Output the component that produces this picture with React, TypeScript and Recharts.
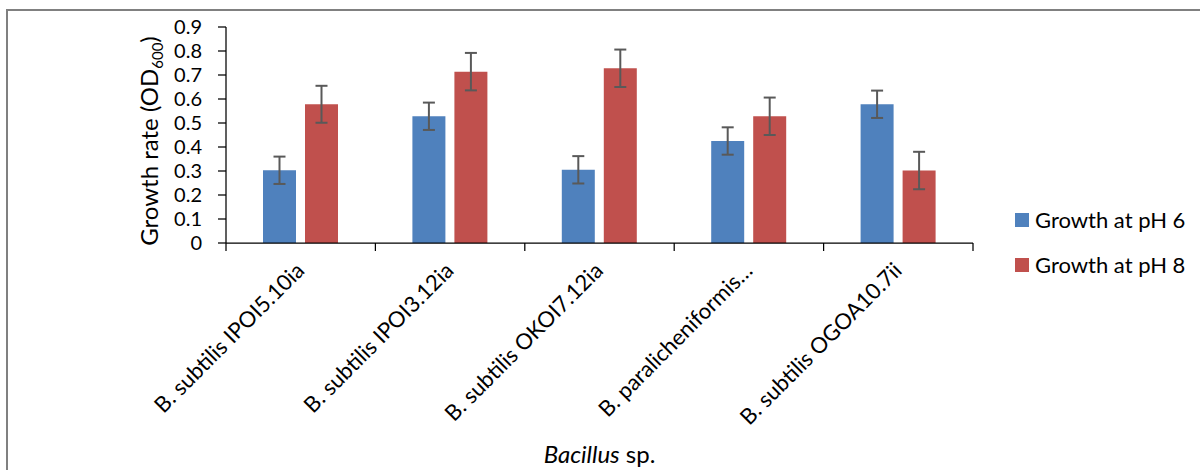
import { BarChart, Bar, XAxis, YAxis, ErrorBar, Legend } from 'recharts'

const strains = [
  'B. subtilis IPOI5.10ia',
  'B. subtilis IPOI3.12ia',
  'B. subtilis OKOI7.12ia',
  'B. paralicheniformis…',
  'B. subtilis OGOA10.7ii',
]
const growthPh6 = [0.303, 0.528, 0.305, 0.425, 0.578]
const errPh6 = [0.057, 0.057, 0.057, 0.057, 0.057]
const growthPh8 = [0.578, 0.714, 0.728, 0.528, 0.302]
const errPh8 = [0.077, 0.078, 0.078, 0.078, 0.078]
const yTicks = [0, 0.1, 0.2, 0.3, 0.4, 0.5, 0.6, 0.7, 0.8, 0.9]

const data = strains.map((name, i) => ({
  name,
  ph6: growthPh6[i],
  ph6Err: errPh6[i],
  ph8: growthPh8[i],
  ph8Err: errPh8[i],
}))

const FONT = 'Lato, "Open Sans", sans-serif'
const FS = 22
const BLUE = '#4F81BD'
const RED = '#C0504D'

// category labels at 45deg + tick marks on the band edges (like Excel)
function StrainTick(props: any) {
  const { x, y, payload, index, visibleTicksCount } = props
  const half = payload.offset ?? 0
  const axisY = y - 8
  const tx = x + 5
  const ty = y + 21
  return (
    <g>
      <line x1={x - half} y1={axisY} x2={x - half} y2={axisY + 8} stroke="#000" strokeWidth={1.25} />
      {index === visibleTicksCount - 1 && (
        <line x1={x + half} y1={axisY} x2={x + half} y2={axisY + 8} stroke="#000" strokeWidth={1.25} />
      )}
      <text
        x={tx}
        y={ty}
        textAnchor="end"
        transform={`rotate(-45, ${tx}, ${ty})`}
        fontSize={FS}
        fill="#000"
        fontFamily={FONT}
      >
        {payload.value}
      </text>
    </g>
  )
}

function LegendBox({ payload }: any) {
  return (
    <div style={{ fontFamily: FONT, fontSize: FS, color: '#000' }}>
      {(payload || []).map((p: any) => (
        <div key={p.value} style={{ display: 'flex', alignItems: 'center', height: 45 }}>
          <span style={{ width: 14, height: 14, background: p.color, marginRight: 6, display: 'inline-block' }} />
          <span>{p.value}</span>
        </div>
      ))}
    </div>
  )
}

export default function App() {
  return (
    <div style={{ position: 'absolute', left: 0, top: 0, width: 1200, height: 470, overflow: 'hidden', background: '#fff' }}>
      {/* chart area frame */}
      <div style={{ position: 'absolute', left: 6, top: 9, width: 1300, height: 600, borderLeft: '2px solid #808080', borderTop: '2px solid #808080' }} />
      <div style={{ position: 'absolute', left: 0, top: 0 }}>
        <BarChart
          width={1200}
          height={470}
          data={data}
          margin={{ top: 27, right: 227, left: 116, bottom: 7 }}
          barCategoryGap={37}
          barGap={9}
        >
          <XAxis
            dataKey="name"
            height={220}
            interval={0}
            tickLine={false}
            tickSize={8}
            tickMargin={0}
            axisLine={{ stroke: '#000', strokeWidth: 1.25 }}
            tick={<StrainTick />}
            label={{
              content: ({ viewBox }: any) => (
                <text x={viewBox.x + viewBox.width / 2} y={viewBox.y + viewBox.height} textAnchor="middle" fontSize={24} fontFamily={FONT} fill="#000">
                  <tspan fontStyle="italic">Bacillus</tspan>
                  <tspan> sp.</tspan>
                </text>
              ),
            }}
          />
          <YAxis
            width={110}
            domain={[0, 0.9]}
            ticks={yTicks}
            interval={0}
            tickSize={8}
            tickMargin={16}
            axisLine={{ stroke: '#000', strokeWidth: 1.25 }}
            tickLine={{ stroke: '#000', strokeWidth: 1.25 }}
            tick={{ fontSize: 20, fill: '#000', fontFamily: FONT }}
            label={{
              content: () => (
                <text x={158} y={141} textAnchor="middle" transform="rotate(-90, 158, 141)" fontSize={24} fontFamily={FONT} fill="#000">
                  <tspan>Growth rate (OD</tspan>
                  <tspan fontSize={15} dy={5}>600</tspan>
                  <tspan dy={-5}>)</tspan>
                </text>
              ),
            }}
          />
          <Legend
            layout="vertical"
            align="center"
            verticalAlign="middle"
            content={<LegendBox />}
            wrapperStyle={{ left: 1015, top: 197, width: 185 }}
          />
          <Bar dataKey="ph6" name="Growth at pH 6" fill={BLUE} isAnimationActive={false}>
            <ErrorBar dataKey="ph6Err" direction="y" width={6} stroke="#595959" strokeWidth={2} />
          </Bar>
          <Bar dataKey="ph8" name="Growth at pH 8" fill={RED} isAnimationActive={false}>
            <ErrorBar dataKey="ph8Err" direction="y" width={6} stroke="#595959" strokeWidth={2} />
          </Bar>
        </BarChart>
      </div>
    </div>
  )
}
